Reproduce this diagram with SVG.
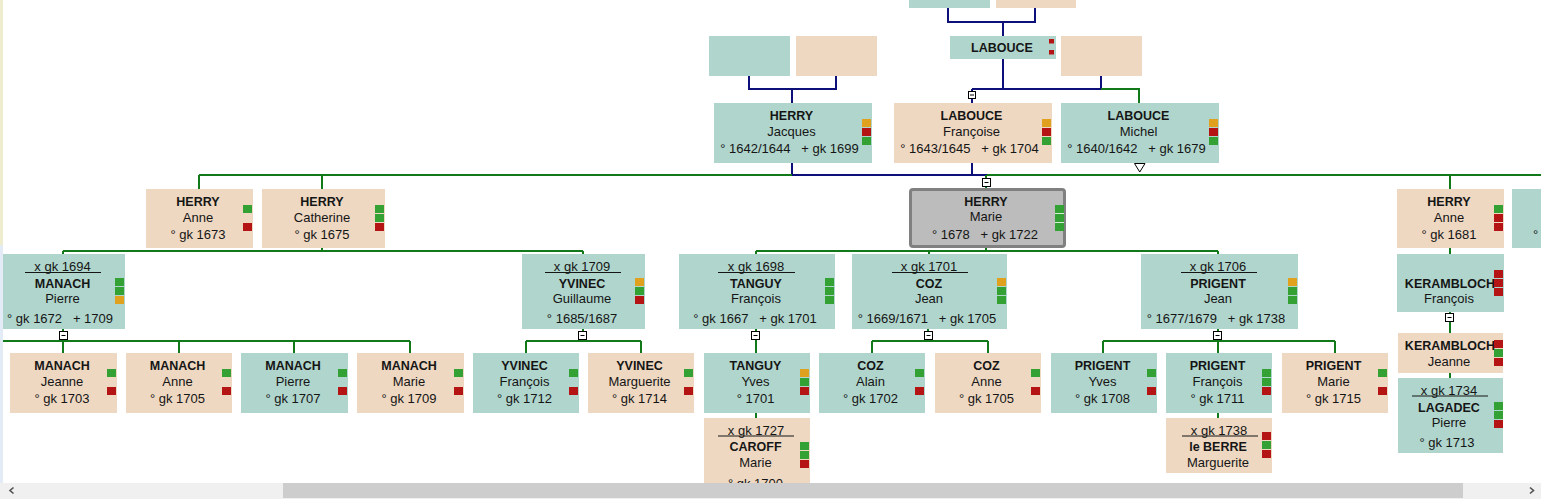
<svg xmlns="http://www.w3.org/2000/svg" width="1541" height="499" viewBox="0 0 1541 499">
<style>
.t{fill:#b0d5cd}
.b{fill:#eed8c2}
.sg{fill:#33a133}
.sr{fill:#b51414}
.so{fill:#e0a21e}
text{font-family:"Liberation Sans",Arial,sans-serif;fill:#151515;text-anchor:middle}
.nm{font-size:12.5px;font-weight:bold}
.tx{font-size:13px}
.ul{stroke:#151515;stroke-width:1}
.nv{stroke:#0c1078;stroke-width:2;fill:none}
.gr{stroke:#12791a;stroke-width:2;fill:none}
.tg{fill:#fff;stroke:#000;stroke-width:1}
</style>
<rect x="0" y="0" width="1541" height="499" fill="#ffffff"/>
<rect x="0" y="0" width="3" height="245" fill="#eeeecf"/>
<rect x="0" y="245" width="3" height="238" fill="#e3ebf6"/>

<g id="connectors">
<path class="nv" d="M948,8V22H1035V8M1003,22V36"/>
<path class="nv" d="M749,76V89H836V76M792,89V103"/>
<path class="nv" d="M1003,59V89M972,89H1101M1101,76V89M972,89V103"/>
<path class="gr" d="M1101,89H1139V103"/>
<path class="nv" d="M792,163V175H987M972,163V175"/>
<path class="gr" d="M199,175H792M987,175H1541M199,175V189M322,175V189M1450,175V189M986,175V188"/>
<path class="gr" d="M322,248V251M63,251H583M63,251V254M583,251V254"/>
<path class="gr" d="M986,248V251M756,251H1218M756,251V254M929,251V254M1218,251V254"/>
<path class="gr" d="M1450,248V254M1450,312V333M1450,373V378"/>
<path class="gr" d="M63,329V341M3,341H410M63,341V353M179,341V353M294,341V353M410,341V353"/>
<path class="gr" d="M583,329V341M526,341H641M526,341V353M641,341V353"/>
<path class="gr" d="M756,329V353M756,413V418"/>
<path class="gr" d="M928,329V341M872,341H988M872,341V353M988,341V353"/>
<path class="gr" d="M1218,329V341M1103,341H1335M1103,341V353M1218,341V353M1335,341V353M1218,413V418"/>
<g id="toggles">
<rect class="tg" x="968.5" y="91.5" width="7" height="7"/><path d="M970,95H974" stroke="#000"/>
<rect class="tg" x="982.5" y="178.5" width="8" height="8"/><path d="M984.5,182.5H988.5" stroke="#000"/>
<rect class="tg" x="59.5" y="331.5" width="8" height="8"/><path d="M61.5,335.5H65.5" stroke="#000"/>
<rect class="tg" x="578.5" y="331.5" width="8" height="8"/><path d="M580.5,335.5H584.5" stroke="#000"/>
<rect class="tg" x="751.5" y="331.5" width="8" height="8"/><path d="M753.5,335.5H757.5" stroke="#000"/>
<rect class="tg" x="924.5" y="331.5" width="8" height="8"/><path d="M926.5,335.5H930.5" stroke="#000"/>
<rect class="tg" x="1213.5" y="331.5" width="8" height="8"/><path d="M1215.5,335.5H1219.5" stroke="#000"/>
<rect class="tg" x="1445.5" y="313.5" width="8" height="8"/><path d="M1447.5,317.5H1451.5" stroke="#000"/>
<polygon points="1134.5,163.5 1145,163.5 1139.75,172" fill="#fff" stroke="#000" stroke-width="1"/>
</g>
</g>

<g id="n-top1"><rect class="t" x="909" y="-5" width="81" height="13"/></g>
<g id="n-top2"><rect class="b" x="996" y="-5" width="80" height="13"/></g>
<g id="n-r2a"><rect class="t" x="709" y="36" width="81" height="40"/></g>
<g id="n-r2b"><rect class="b" x="796" y="36" width="81" height="40"/></g>
<g id="n-labouce"><rect class="t" x="950" y="36" width="106" height="23"/>
<text class="nm" x="1002" y="52">LABOUCE</text>
<rect class="sr" x="1049" y="39" width="5" height="4.5"/><rect class="sr" x="1049" y="50" width="5" height="4.5"/></g>
<g id="n-r2d"><rect class="b" x="1061" y="36" width="81" height="40"/></g>

<g id="n-jacques"><rect class="t" x="714" y="103" width="158" height="60"/>
<text class="nm" x="791.5" y="119.5">HERRY</text><text class="tx" x="791.5" y="135.5">Jacques</text>
<text class="tx" x="789.5" y="153">° 1642/1644&#160;&#160; + gk 1699</text>
<rect class="so" x="862" y="119" width="9" height="8"/><rect class="sr" x="862" y="128" width="9" height="8"/><rect class="sg" x="862" y="137" width="9" height="8"/></g>
<g id="n-francoise"><rect class="b" x="894" y="103" width="158" height="60"/>
<text class="nm" x="971.5" y="119.5">LABOUCE</text><text class="tx" x="971.5" y="135.5">Françoise</text>
<text class="tx" x="969.5" y="153">° 1643/1645&#160;&#160; + gk 1704</text>
<rect class="so" x="1042" y="119" width="9" height="8"/><rect class="sr" x="1042" y="128" width="9" height="8"/><rect class="sg" x="1042" y="137" width="9" height="8"/></g>
<g id="n-michel"><rect class="t" x="1061" y="103" width="158" height="60"/>
<text class="nm" x="1138.5" y="119.5">LABOUCE</text><text class="tx" x="1138.5" y="135.5">Michel</text>
<text class="tx" x="1136.5" y="153">° 1640/1642&#160;&#160; + gk 1679</text>
<rect class="so" x="1209" y="119" width="9" height="8"/><rect class="sr" x="1209" y="128" width="9" height="8"/><rect class="sg" x="1209" y="137" width="9" height="8"/></g>

<g id="n-anne1673"><rect class="b" x="146" y="189" width="107" height="59"/>
<text class="nm" x="198" y="205.5">HERRY</text><text class="tx" x="198" y="221.5">Anne</text><text class="tx" x="198" y="239">° gk 1673</text>
<rect class="sg" x="243" y="205" width="9" height="8"/><rect class="sr" x="243" y="223" width="9" height="8"/></g>
<g id="n-catherine"><rect class="b" x="262" y="189" width="123" height="59"/>
<text class="nm" x="322" y="205.5">HERRY</text><text class="tx" x="322" y="221.5">Catherine</text><text class="tx" x="322" y="239">° gk 1675</text>
<rect class="sg" x="375" y="205" width="9" height="8"/><rect class="sg" x="375" y="214" width="9" height="8"/><rect class="sr" x="375" y="223" width="9" height="8"/></g>
<g id="n-marie"><rect x="910.5" y="189.5" width="154" height="57" rx="2.5" fill="#bcbcbc" stroke="#808080" stroke-width="3"/>
<text class="nm" x="986" y="205.5">HERRY</text><text class="tx" x="986" y="221">Marie</text>
<text class="tx" x="985" y="239">° 1678&#160;&#160; + gk 1722</text>
<rect x="1055" y="205" width="9" height="26" fill="#d8ecd8"/>
<rect class="sg" x="1055" y="205" width="9" height="8"/><rect class="sg" x="1055" y="214" width="9" height="8"/><rect class="sg" x="1055" y="223" width="9" height="8"/></g>
<g id="n-anne1681"><rect class="b" x="1397" y="189" width="107" height="59"/>
<text class="nm" x="1449" y="205.5">HERRY</text><text class="tx" x="1449" y="221.5">Anne</text><text class="tx" x="1449" y="239">° gk 1681</text>
<rect class="sg" x="1494" y="205" width="9" height="8"/><rect class="sr" x="1494" y="214" width="9" height="8"/><rect class="sr" x="1494" y="223" width="9" height="8"/></g>
<g id="n-partial"><rect class="t" x="1512" y="189" width="40" height="59"/>
<text class="tx" x="1533" y="239" style="text-anchor:start">°</text></g>

<g id="n-manach-pierre"><rect class="t" x="3" y="254" width="122" height="75"/>
<text class="tx" x="62.5" y="271">x gk 1694</text><line class="ul" x1="25" y1="272.5" x2="101" y2="272.5"/>
<text class="nm" x="62.5" y="288">MANACH</text><text class="tx" x="62.5" y="302.5">Pierre</text>
<text class="tx" x="60" y="323">° gk 1672&#160;&#160; + 1709</text>
<rect class="sg" x="115" y="278" width="9" height="8"/><rect class="sg" x="115" y="287" width="9" height="8"/><rect class="so" x="115" y="296" width="9" height="8"/></g>
<g id="n-yvinec-guillaume"><rect class="t" x="522" y="254" width="123" height="75"/>
<text class="tx" x="582" y="271">x gk 1709</text><line class="ul" x1="545" y1="272.5" x2="621" y2="272.5"/>
<text class="nm" x="582" y="288">YVINEC</text><text class="tx" x="582" y="302.5">Guillaume</text>
<text class="tx" x="582" y="323">° 1685/1687</text>
<rect class="so" x="635" y="278" width="9" height="8"/><rect class="sg" x="635" y="287" width="9" height="8"/><rect class="sr" x="635" y="296" width="9" height="8"/></g>
<g id="n-tanguy-francois"><rect class="t" x="679" y="254" width="156" height="75"/>
<text class="tx" x="756" y="271">x gk 1698</text><line class="ul" x1="718" y1="272.5" x2="795" y2="272.5"/>
<text class="nm" x="756" y="288">TANGUY</text><text class="tx" x="756" y="302.5">François</text>
<text class="tx" x="755" y="323">° gk 1667&#160;&#160; + gk 1701</text>
<rect class="sg" x="825" y="278" width="9" height="8"/><rect class="sg" x="825" y="287" width="9" height="8"/><rect class="sg" x="825" y="296" width="9" height="8"/></g>
<g id="n-coz-jean"><rect class="t" x="852" y="254" width="155" height="75"/>
<text class="tx" x="929" y="271">x gk 1701</text><line class="ul" x1="892" y1="272.5" x2="968" y2="272.5"/>
<text class="nm" x="929" y="288">COZ</text><text class="tx" x="929" y="302.5">Jean</text>
<text class="tx" x="927" y="323">° 1669/1671&#160;&#160; + gk 1705</text>
<rect class="so" x="997" y="278" width="9" height="8"/><rect class="sg" x="997" y="287" width="9" height="8"/><rect class="sg" x="997" y="296" width="9" height="8"/></g>
<g id="n-prigent-jean"><rect class="t" x="1141" y="254" width="157" height="75"/>
<text class="tx" x="1218" y="271">x gk 1706</text><line class="ul" x1="1181" y1="272.5" x2="1257" y2="272.5"/>
<text class="nm" x="1218" y="288">PRIGENT</text><text class="tx" x="1218" y="302.5">Jean</text>
<text class="tx" x="1216" y="323">° 1677/1679&#160;&#160; + gk 1738</text>
<rect class="so" x="1288" y="278" width="9" height="8"/><rect class="sg" x="1288" y="287" width="9" height="8"/><rect class="sg" x="1288" y="296" width="9" height="8"/></g>
<g id="n-kerambloch-francois"><rect class="t" x="1397" y="254" width="107" height="58"/>
<text class="nm" x="1450" y="288">KERAMBLOCH</text><text class="tx" x="1449" y="302.5">François</text>
<rect class="sr" x="1494" y="270" width="9" height="8"/><rect class="sr" x="1494" y="279" width="9" height="8"/><rect class="sr" x="1494" y="288" width="9" height="8"/></g>

<g id="n-manach-jeanne"><rect class="b" x="10" y="353" width="107" height="60"/>
<text class="nm" x="62" y="369.5">MANACH</text><text class="tx" x="62" y="385.5">Jeanne</text><text class="tx" x="62" y="403">° gk 1703</text>
<rect class="sg" x="107" y="369" width="9" height="8"/><rect class="sr" x="107" y="387" width="9" height="8"/></g>
<g id="n-manach-anne"><rect class="b" x="126" y="353" width="106" height="60"/>
<text class="nm" x="177.5" y="369.5">MANACH</text><text class="tx" x="177.5" y="385.5">Anne</text><text class="tx" x="177.5" y="403">° gk 1705</text>
<rect class="sg" x="222" y="369" width="9" height="8"/><rect class="sr" x="222" y="387" width="9" height="8"/></g>
<g id="n-manach-pierre2"><rect class="t" x="241" y="353" width="107" height="60"/>
<text class="nm" x="293" y="369.5">MANACH</text><text class="tx" x="293" y="385.5">Pierre</text><text class="tx" x="293" y="403">° gk 1707</text>
<rect class="sg" x="338" y="369" width="9" height="8"/><rect class="sr" x="338" y="387" width="9" height="8"/></g>
<g id="n-manach-marie"><rect class="b" x="357" y="353" width="107" height="60"/>
<text class="nm" x="409" y="369.5">MANACH</text><text class="tx" x="409" y="385.5">Marie</text><text class="tx" x="409" y="403">° gk 1709</text>
<rect class="sg" x="454" y="369" width="9" height="8"/><rect class="sr" x="454" y="387" width="9" height="8"/></g>
<g id="n-yvinec-francois"><rect class="t" x="473" y="353" width="106" height="60"/>
<text class="nm" x="524.5" y="369.5">YVINEC</text><text class="tx" x="524.5" y="385.5">François</text><text class="tx" x="524.5" y="403">° gk 1712</text>
<rect class="sg" x="569" y="369" width="9" height="8"/><rect class="sr" x="569" y="387" width="9" height="8"/></g>
<g id="n-yvinec-marguerite"><rect class="b" x="588" y="353" width="106" height="60"/>
<text class="nm" x="639.5" y="369.5">YVINEC</text><text class="tx" x="639.5" y="385.5">Marguerite</text><text class="tx" x="639.5" y="403">° gk 1714</text>
<rect class="sg" x="684" y="369" width="9" height="8"/><rect class="sr" x="684" y="387" width="9" height="8"/></g>
<g id="n-tanguy-yves"><rect class="t" x="704" y="353" width="106" height="60"/>
<text class="nm" x="755.5" y="369.5">TANGUY</text><text class="tx" x="755.5" y="385.5">Yves</text><text class="tx" x="755.5" y="403">° 1701</text>
<rect class="so" x="800" y="369" width="9" height="8"/><rect class="sg" x="800" y="378" width="9" height="8"/><rect class="sr" x="800" y="387" width="9" height="8"/></g>
<g id="n-coz-alain"><rect class="t" x="819" y="353" width="106" height="60"/>
<text class="nm" x="870.5" y="369.5">COZ</text><text class="tx" x="870.5" y="385.5">Alain</text><text class="tx" x="870.5" y="403">° gk 1702</text>
<rect class="sg" x="915" y="369" width="9" height="8"/><rect class="sr" x="915" y="387" width="9" height="8"/></g>
<g id="n-coz-anne"><rect class="b" x="935" y="353" width="106" height="60"/>
<text class="nm" x="986.5" y="369.5">COZ</text><text class="tx" x="986.5" y="385.5">Anne</text><text class="tx" x="986.5" y="403">° gk 1705</text>
<rect class="sg" x="1031" y="369" width="9" height="8"/><rect class="sr" x="1031" y="387" width="9" height="8"/></g>
<g id="n-prigent-yves"><rect class="t" x="1051" y="353" width="106" height="60"/>
<text class="nm" x="1102.5" y="369.5">PRIGENT</text><text class="tx" x="1102.5" y="385.5">Yves</text><text class="tx" x="1102.5" y="403">° gk 1708</text>
<rect class="sg" x="1147" y="369" width="9" height="8"/><rect class="sr" x="1147" y="387" width="9" height="8"/></g>
<g id="n-prigent-francois"><rect class="t" x="1166" y="353" width="106" height="60"/>
<text class="nm" x="1217.5" y="369.5">PRIGENT</text><text class="tx" x="1217.5" y="385.5">François</text><text class="tx" x="1217.5" y="403">° gk 1711</text>
<rect class="sg" x="1262" y="369" width="9" height="8"/><rect class="sg" x="1262" y="378" width="9" height="8"/><rect class="sr" x="1262" y="387" width="9" height="8"/></g>
<g id="n-prigent-marie"><rect class="b" x="1282" y="353" width="106" height="60"/>
<text class="nm" x="1333.5" y="369.5">PRIGENT</text><text class="tx" x="1333.5" y="385.5">Marie</text><text class="tx" x="1333.5" y="403">° gk 1715</text>
<rect class="sg" x="1378" y="369" width="9" height="8"/><rect class="sr" x="1378" y="387" width="9" height="8"/></g>
<g id="n-kerambloch-jeanne"><rect class="b" x="1398" y="333" width="105" height="40"/>
<text class="nm" x="1450" y="350">KERAMBLOCH</text><text class="tx" x="1449" y="365.5">Jeanne</text>
<rect class="sr" x="1494" y="340" width="9" height="8"/><rect class="sg" x="1494" y="349" width="9" height="8"/><rect class="sr" x="1494" y="358" width="9" height="8"/></g>
<g id="n-lagadec"><rect class="t" x="1398" y="378" width="105" height="75"/>
<text class="tx" x="1449" y="394.5">x gk 1734</text><line class="ul" x1="1412" y1="396" x2="1488" y2="396"/>
<text class="nm" x="1449" y="411.5">LAGADEC</text><text class="tx" x="1449" y="426.5">Pierre</text><text class="tx" x="1447" y="447">° gk 1713</text>
<rect class="sg" x="1494" y="402" width="9" height="8"/><rect class="sg" x="1494" y="411" width="9" height="8"/><rect class="sr" x="1494" y="420" width="9" height="8"/></g>
<g id="n-leberre"><rect class="b" x="1166" y="418" width="106" height="55"/>
<text class="tx" x="1219" y="434.5">x gk 1738</text><line class="ul" x1="1182" y1="436" x2="1258" y2="436"/>
<text class="nm" x="1218" y="451">le BERRE</text><text class="tx" x="1218" y="466.5">Marguerite</text>
<rect class="sr" x="1262" y="432" width="9" height="8"/><rect class="sg" x="1262" y="441" width="9" height="8"/><rect class="sr" x="1262" y="450" width="9" height="8"/></g>
<g id="n-caroff"><rect class="b" x="704" y="418" width="106" height="75"/>
<text class="tx" x="756" y="434.5">x gk 1727</text><line class="ul" x1="718" y1="436" x2="794" y2="436"/>
<text class="nm" x="755.5" y="451">CAROFF</text><text class="tx" x="755.5" y="466.5">Marie</text><text class="tx" x="755.5" y="488">° gk 1700</text>
<rect class="sg" x="800" y="442" width="9" height="8"/><rect class="sg" x="800" y="451" width="9" height="8"/><rect class="sr" x="800" y="460" width="9" height="8"/></g>

<g id="scrollbar">
<rect x="0" y="483" width="1541" height="16" fill="#f0f0f0"/>
<rect x="283" y="483" width="1180" height="15" fill="#cdcdcd"/>
<polyline points="13.5,487.5 10,490.5 13.5,493.5" fill="none" stroke="#505050" stroke-width="1.6"/>
<polyline points="1530,487.5 1533.5,490.5 1530,493.5" fill="none" stroke="#505050" stroke-width="1.6"/>
</g>
</svg>
